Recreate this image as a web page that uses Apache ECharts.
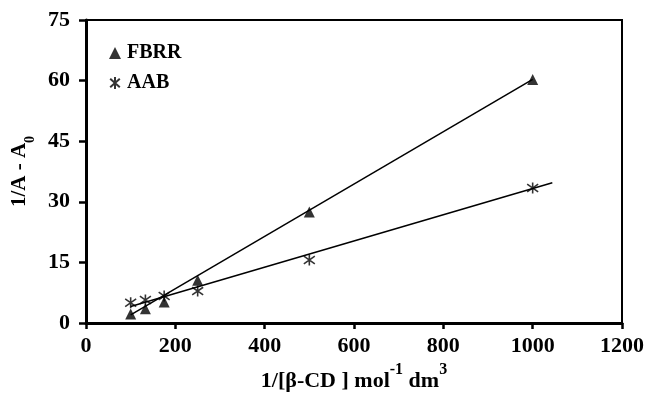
<!DOCTYPE html>
<html>
<head>
<meta charset="utf-8">
<script src="https://cdn.jsdelivr.net/npm/echarts@6/dist/echarts.min.js"></script>
<style>
  html, body { margin: 0; padding: 0; background: #fff; }
  #chart { width: 646px; height: 394px; }
</style>
</head>
<body>
<div id="chart"></div>
<script>
// 1/[β-CD] values (x) and 1/(A - A0) for the two dyes
const xValues = [100, 133, 175, 250, 500, 1000];
const fbrrValues = [2.2, 3.5, 5.2, 10.6, 27.5, 60.3];
const aabValues = [5.0, 5.7, 6.7, 7.9, 15.6, 33.4];

// fitted straight lines (end points)
const fbrrFitX = [100, 1000];
const fbrrFitY = [2.0, 60.3];
const aabFitX = [100, 1044];
const aabFitY = [4.1, 34.7];

const xTicks = [0, 200, 400, 600, 800, 1000, 1200];
const yTicks = [0, 15, 30, 45, 60, 75];

const FONT = 'Liberation Serif';
const pair = (xs, ys) => xs.map((x, i) => [x, ys[i]]);

// asterisk used for AAB: vertical bar plus an X
const starPath = 'path://M0,-10L0,10M-8,-7L8,7M-8,7L8,-7';

const chart = echarts.init(document.getElementById('chart'));

const option = {
  backgroundColor: '#fff',
  animation: false,
  textStyle: { fontFamily: FONT, fontWeight: 'bold', color: '#000' },
  grid: {
    left: 86, right: 24, top: 20, bottom: 71,
    outerBoundsMode: 'none',
    show: true, borderColor: '#000', borderWidth: 2
  },
  legend: {
    orient: 'vertical',
    left: 104, top: 38,
    itemGap: 10,
    itemWidth: 12, itemHeight: 12,
    data: ['FBRR', 'AAB'],
    textStyle: { fontFamily: FONT, fontWeight: 'bold', fontSize: 20, color: '#000', padding: [0, 0, 0, 1] }
  },
  xAxis: {
    type: 'value',
    min: xTicks[0], max: xTicks[xTicks.length - 1], interval: 200,
    splitLine: { show: false },
    axisLine: { lineStyle: { color: '#000', width: 3 } },
    axisTick: { length: 6, lineStyle: { color: '#000', width: 2.5 } },
    axisLabel: {
      fontFamily: FONT, fontWeight: 'bold', fontSize: 22, color: '#000', margin: 12,
      formatter: v => String(v)
    },
    name: '{t|1/[β-CD ] mol}{s|-1}{t| dm}{s|3}',
    nameLocation: 'middle',
    nameGap: 36,
    nameTextStyle: {
      rich: {
        t: { fontFamily: FONT, fontWeight: 'bold', fontSize: 22, color: '#000', verticalAlign: 'bottom', lineHeight: 30 },
        s: { fontFamily: FONT, fontWeight: 'bold', fontSize: 16, color: '#000', verticalAlign: 'top', lineHeight: 30 }
      }
    }
  },
  yAxis: {
    type: 'value',
    min: yTicks[0], max: yTicks[yTicks.length - 1], interval: 15,
    splitLine: { show: false },
    axisLine: { lineStyle: { color: '#000', width: 3 } },
    axisTick: { length: 7, lineStyle: { color: '#000', width: 2.5 } },
    axisLabel: { fontFamily: FONT, fontWeight: 'bold', fontSize: 22, color: '#000', margin: 16 },
    name: '{t|1/A - A}{b|0}',
    nameLocation: 'middle',
    nameGap: 49,
    nameTextStyle: {
      rich: {
        t: { fontFamily: FONT, fontWeight: 'bold', fontSize: 21, color: '#000', verticalAlign: 'top', lineHeight: 28 },
        b: { fontFamily: FONT, fontWeight: 'bold', fontSize: 14, color: '#000', verticalAlign: 'bottom', lineHeight: 28 }
      }
    }
  },
  series: [
    {
      name: 'FBRR fit', type: 'line', data: pair(fbrrFitX, fbrrFitY),
      showSymbol: false, lineStyle: { color: '#000', width: 1.5 }, z: 1
    },
    {
      name: 'AAB fit', type: 'line', data: pair(aabFitX, aabFitY),
      showSymbol: false, lineStyle: { color: '#000', width: 1.5 }, z: 1
    },
    {
      name: 'FBRR', type: 'scatter', data: pair(xValues, fbrrValues),
      symbol: 'triangle', symbolSize: 11,
      itemStyle: { color: '#000' }, z: 3
    },
    {
      name: 'AAB', type: 'scatter', data: pair(xValues, aabValues),
      symbol: starPath, symbolSize: 11,
      itemStyle: { color: 'rgba(0,0,0,0)', borderColor: '#000', borderWidth: 1.6 }, z: 3
    }
  ]
};

chart.setOption(option);
</script>
</body>
</html>
